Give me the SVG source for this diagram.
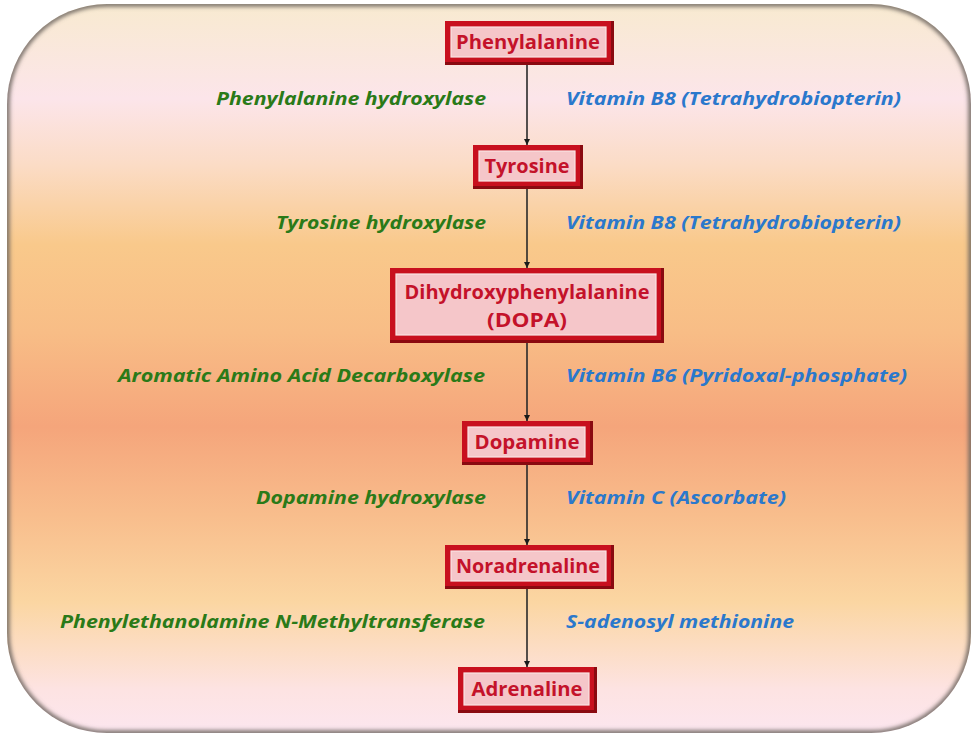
<svg xmlns="http://www.w3.org/2000/svg" width="974" height="735" viewBox="0 0 974 735">
<defs>
<linearGradient id="bg" x1="0" y1="0" x2="0" y2="1">
<stop offset="0" stop-color="#f8ead0"/>
<stop offset="0.13" stop-color="#fce5ea"/>
<stop offset="0.22" stop-color="#fbdcc6"/>
<stop offset="0.33" stop-color="#f9c98b"/>
<stop offset="0.45" stop-color="#f8bd86"/>
<stop offset="0.58" stop-color="#f5a57b"/>
<stop offset="0.70" stop-color="#f8bd8c"/>
<stop offset="0.82" stop-color="#fbd6a2"/>
<stop offset="0.94" stop-color="#fde3e2"/>
<stop offset="1" stop-color="#fce6ef"/>
</linearGradient>
<filter id="blur" x="-5%" y="-5%" width="110%" height="110%"><feGaussianBlur stdDeviation="2"/></filter>
<clipPath id="clipbg"><rect x="7" y="4" width="964" height="729" rx="100" ry="100"/></clipPath>
<marker id="arr" viewBox="0 0 10 10" refX="10" refY="5" markerWidth="6" markerHeight="6" markerUnits="userSpaceOnUse" orient="auto">
<path d="M0,0 L10,5 L0,10 Z" fill="#1a1a1a"/>
</marker>
</defs>
<style>
.box-outer{fill:#c8101e;}
.box-shade{fill:#8a0a10;}
.box-inner{fill:#f5c6c9;stroke:#fbe4e4;stroke-width:1.2;}
.nt{font-family:"Open Sans","Lato",sans-serif;font-weight:700;font-size:19px;fill:#c4122a;text-anchor:middle;}
.enz{font-family:"Open Sans","Lato",sans-serif;font-weight:700;font-style:italic;font-size:18px;fill:#2a7a18;text-anchor:end;}
.vit{font-family:"Open Sans","Lato",sans-serif;font-weight:700;font-style:italic;font-size:18px;fill:#2a78cc;text-anchor:start;}
.conn{stroke:#2a2a2a;stroke-width:1.6;fill:none;}
</style>
<g id="background">
<rect x="7" y="4" width="964" height="729" rx="100" ry="100" fill="url(#bg)"/>
<g clip-path="url(#clipbg)">
<rect x="7" y="4" width="964" height="729" rx="100" ry="100" fill="none" stroke="#6e6660" stroke-width="5" filter="url(#blur)"/>
</g>
</g>
<g id="connectors">
<line class="conn" x1="527" y1="65" x2="527" y2="145" marker-end="url(#arr)"/>
<line class="conn" x1="527" y1="188" x2="527" y2="268" marker-end="url(#arr)"/>
<line class="conn" x1="527" y1="343" x2="527" y2="421" marker-end="url(#arr)"/>
<line class="conn" x1="527" y1="465" x2="527" y2="545" marker-end="url(#arr)"/>
<line class="conn" x1="527" y1="588" x2="527" y2="667" marker-end="url(#arr)"/>
</g>
<g id="n-phenylalanine">
<rect class="box-shade" x="445" y="21" width="169" height="44"/>
<rect class="box-outer" x="445" y="21" width="166" height="41"/>
<rect class="box-inner" x="451" y="27" width="155" height="30"/>
<text class="nt" x="528" y="49" textLength="144" lengthAdjust="spacingAndGlyphs">Phenylalanine</text>
</g>
<g id="n-tyrosine">
<rect class="box-shade" x="473" y="145" width="110" height="44"/>
<rect class="box-outer" x="473" y="145" width="107" height="41"/>
<rect class="box-inner" x="479" y="151" width="96" height="30"/>
<text class="nt" x="527" y="173" textLength="85" lengthAdjust="spacingAndGlyphs">Tyrosine</text>
</g>
<g id="n-dopa">
<rect class="box-shade" x="390" y="268" width="274" height="75"/>
<rect class="box-outer" x="390" y="268" width="271" height="72"/>
<rect class="box-inner" x="396" y="274" width="260" height="61"/>
<text class="nt" x="527" y="299" textLength="245" lengthAdjust="spacingAndGlyphs">Dihydroxyphenylalanine</text>
<text class="nt" x="527" y="327" textLength="80" lengthAdjust="spacingAndGlyphs">(DOPA)</text>
</g>
<g id="n-dopamine">
<rect class="box-shade" x="462" y="421" width="131" height="44"/>
<rect class="box-outer" x="462" y="421" width="128" height="41"/>
<rect class="box-inner" x="468" y="427" width="117" height="30"/>
<text class="nt" x="527" y="449" textLength="105" lengthAdjust="spacingAndGlyphs">Dopamine</text>
</g>
<g id="n-noradrenaline">
<rect class="box-shade" x="445" y="545" width="169" height="44"/>
<rect class="box-outer" x="445" y="545" width="166" height="41"/>
<rect class="box-inner" x="451" y="551" width="155" height="30"/>
<text class="nt" x="528" y="573" textLength="144" lengthAdjust="spacingAndGlyphs">Noradrenaline</text>
</g>
<g id="n-adrenaline">
<rect class="box-shade" x="458" y="667" width="139" height="46"/>
<rect class="box-outer" x="458" y="667" width="136" height="43"/>
<rect class="box-inner" x="464" y="673" width="125" height="32"/>
<text class="nt" x="527" y="696" textLength="111" lengthAdjust="spacingAndGlyphs">Adrenaline</text>
</g>
<g id="labels">
<text class="enz" x="486" y="105" textLength="270" lengthAdjust="spacingAndGlyphs">Phenylalanine hydroxylase</text>
<text class="vit" x="566" y="105" textLength="335" lengthAdjust="spacingAndGlyphs">Vitamin B8 (Tetrahydrobiopterin)</text>
<text class="enz" x="486" y="229" textLength="210" lengthAdjust="spacingAndGlyphs">Tyrosine hydroxylase</text>
<text class="vit" x="566" y="229" textLength="335" lengthAdjust="spacingAndGlyphs">Vitamin B8 (Tetrahydrobiopterin)</text>
<text class="enz" x="485" y="382" textLength="367" lengthAdjust="spacingAndGlyphs">Aromatic Amino Acid Decarboxylase</text>
<text class="vit" x="566" y="382" textLength="341" lengthAdjust="spacingAndGlyphs">Vitamin B6 (Pyridoxal-phosphate)</text>
<text class="enz" x="486" y="504" textLength="230" lengthAdjust="spacingAndGlyphs">Dopamine hydroxylase</text>
<text class="vit" x="566" y="504" textLength="220" lengthAdjust="spacingAndGlyphs">Vitamin C (Ascorbate)</text>
<text class="enz" x="485" y="628" textLength="425" lengthAdjust="spacingAndGlyphs">Phenylethanolamine N-Methyltransferase</text>
<text class="vit" x="566" y="628" textLength="228" lengthAdjust="spacingAndGlyphs">S-adenosyl methionine</text>
</g>
</svg>
